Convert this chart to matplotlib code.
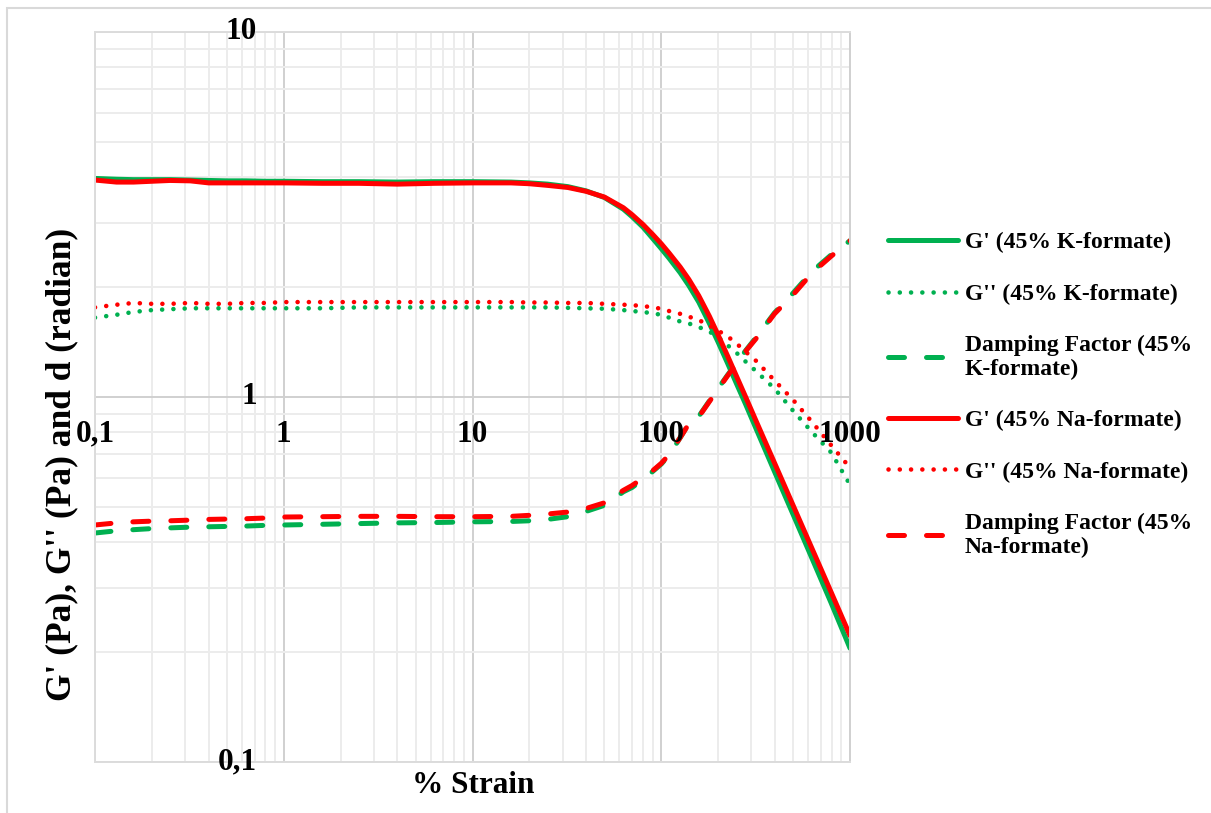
import matplotlib.pyplot as plt
from matplotlib.patches import Rectangle

plt.rcParams['font.family'] = ['Liberation Serif', 'DejaVu Serif']
plt.rcParams['font.weight'] = 'bold'

# Data (strain in %, moduli in Pa, damping in rad)
strain = [0.1, 0.13, 0.16, 0.2, 0.25, 0.32, 0.4, 0.5, 0.63, 0.8, 1, 1.6, 2.5, 4, 6.3,
          10, 16, 20, 25, 32, 40, 50, 63, 70, 80, 90, 100, 110, 126, 140, 158, 180, 200,
          225, 251, 280, 316, 398, 501, 631, 794, 1000]

g1_k = [3.97, 3.95, 3.94, 3.94, 3.94, 3.93, 3.92, 3.91, 3.91, 3.9, 3.9, 3.89, 3.89, 3.88,
        3.89, 3.89, 3.88, 3.86, 3.83, 3.77, 3.67, 3.52, 3.27, 3.12, 2.92, 2.72, 2.55, 2.40,
        2.19, 2.02, 1.82, 1.59, 1.415, 1.235, 1.085, 0.955, 0.825, 0.625, 0.475, 0.36,
        0.273, 0.205]
g2_k = [1.65, 1.68, 1.71, 1.73, 1.74, 1.75, 1.75, 1.75, 1.75, 1.75, 1.75, 1.75, 1.76, 1.76,
        1.76, 1.76, 1.76, 1.76, 1.76, 1.755, 1.75, 1.745, 1.73, 1.72, 1.71, 1.695, 1.68,
        1.65, 1.61, 1.59, 1.555, 1.51, 1.46, 1.385, 1.32, 1.25, 1.18, 1.055, 0.915, 0.80,
        0.705, 0.575]
damp_k = [0.424, 0.43, 0.433, 0.436, 0.438, 0.44, 0.441, 0.442, 0.443, 0.445, 0.446, 0.448,
          0.45, 0.452, 0.453, 0.455, 0.456, 0.458, 0.462, 0.47, 0.486, 0.505, 0.55, 0.565,
          0.595, 0.625, 0.655, 0.693, 0.774, 0.846, 0.885, 0.976, 1.055, 1.15, 1.24, 1.34,
          1.45, 1.70, 1.93, 2.21, 2.45, 2.68]

g1_na = [3.93, 3.88, 3.88, 3.9, 3.92, 3.91, 3.86, 3.86, 3.86, 3.86, 3.86, 3.85, 3.85, 3.83,
         3.85, 3.86, 3.86, 3.84, 3.80, 3.75, 3.66, 3.53, 3.30, 3.16, 2.97, 2.79, 2.63, 2.48,
         2.27, 2.10, 1.894, 1.663, 1.48, 1.293, 1.137, 1.0, 0.866, 0.66, 0.503, 0.383,
         0.292, 0.222]
g2_na = [1.76, 1.79, 1.81, 1.80, 1.80, 1.81, 1.80, 1.80, 1.81, 1.81, 1.82, 1.82, 1.82, 1.82,
         1.82, 1.82, 1.82, 1.815, 1.815, 1.81, 1.81, 1.80, 1.79, 1.785, 1.775, 1.76, 1.745,
         1.72, 1.69, 1.66, 1.625, 1.57, 1.52, 1.465, 1.40, 1.33, 1.26, 1.11, 0.98, 0.853,
         0.738, 0.64]
damp_na = [0.446, 0.452, 0.455, 0.457, 0.458, 0.46, 0.462, 0.463, 0.464, 0.466, 0.469, 0.47,
           0.471, 0.471, 0.47, 0.47, 0.471, 0.474, 0.478, 0.484, 0.495, 0.513, 0.555, 0.572,
           0.60, 0.628, 0.658, 0.695, 0.774, 0.844, 0.882, 0.972, 1.05, 1.145, 1.235, 1.335,
           1.44, 1.69, 1.91, 2.19, 2.43, 2.68]

labels = ["G' (45% K-formate)", "G'' (45% K-formate)", "Damping Factor (45%\nK-formate)",
          "G' (45% Na-formate)", "G'' (45% Na-formate)", "Damping Factor (45%\nNa-formate)"]

xticks = [0.1, 1, 10, 100, 1000]
xticklabels = ['0,1', '1', '10', '100', '1000']
yticks = [0.1, 1, 10]
yticklabels = ['0,1', '1', '10']

green = '#00B050'
red = '#FF0000'
dots = (0, (0.01, 2.45))
dashes = (0, (3.2, 4.4))

fig = plt.figure(figsize=(12.11, 8.13), dpi=100)
ax = fig.add_axes([95 / 1211, 51 / 813, 755 / 1211, 730 / 813])

ax.plot(strain, g1_k, color=green, lw=3.6, label=labels[0], solid_capstyle='round')
ax.plot(strain, g2_k, color=green, lw=3.3, ls=dots, dash_capstyle='round', label=labels[1])
ax.plot(strain, damp_k, color=green, lw=3.6, ls=dashes, dash_capstyle='round', label=labels[2])
ax.plot(strain, g1_na, color=red, lw=3.6, label=labels[3], solid_capstyle='round')
ax.plot(strain, g2_na, color=red, lw=3.3, ls=dots, dash_capstyle='round', label=labels[4])
ax.plot(strain, damp_na, color=red, lw=3.6, ls=dashes, dash_capstyle='round', label=labels[5])

ax.set_xscale('log')
ax.set_yscale('log')
ax.set_xlim(0.1, 1000)
ax.set_ylim(0.1, 10)
ax.set_axisbelow(True)
ax.grid(which='major', color='#d0d0d0', lw=1.4)
ax.grid(which='minor', color='#ececec', lw=1.4)
ax.tick_params(which='both', length=0, labelbottom=False, labelleft=False)
for side in ['left', 'bottom', 'top']:
    ax.spines[side].set_color('#dcdcdc')
    ax.spines[side].set_linewidth(1.4)
ax.spines['right'].set_color('#d0d0d0')
ax.spines['right'].set_linewidth(1.4)

# axes cross at x=1 and y=1, labels sit next to the crossing lines
for xv, lab in zip(xticks, xticklabels):
    ax.annotate(lab, xy=(xv, 1), xytext=(0, -37), textcoords='offset pixels',
                ha='center', va='center', fontsize=22.5, annotation_clip=False)
for yv, lab in zip(yticks, yticklabels):
    ax.annotate(lab, xy=(1, yv), xytext=(-27, 0), textcoords='offset pixels',
                ha='right', va='center', fontsize=22.5, annotation_clip=False)

fig.text(473 / 1211, 1 - 785 / 813, '% Strain', ha='center', va='center', fontsize=22.5)
fig.text(62 / 1211, 1 - 464 / 813, "G' (Pa), G'' (Pa) and d (radian)", rotation=90,
         ha='center', va='center', fontsize=25.5)

leg = ax.legend(loc='upper left', bbox_to_anchor=(888 / 1211, 1 - 232 / 813),
                bbox_transform=fig.transFigure, frameon=False, fontsize=17,
                handlelength=2.95, handletextpad=0.3, labelspacing=1.26,
                borderpad=0, borderaxespad=0)

# light chart-area border (top and left edges visible)
fig.add_artist(Rectangle((7 / 1211, -0.1), 1.2, 1 - 8 / 813 + 0.1, transform=fig.transFigure,
                         fill=False, edgecolor='#d9d9d9', lw=1.5))

fig.savefig('out.png', dpi=100)
